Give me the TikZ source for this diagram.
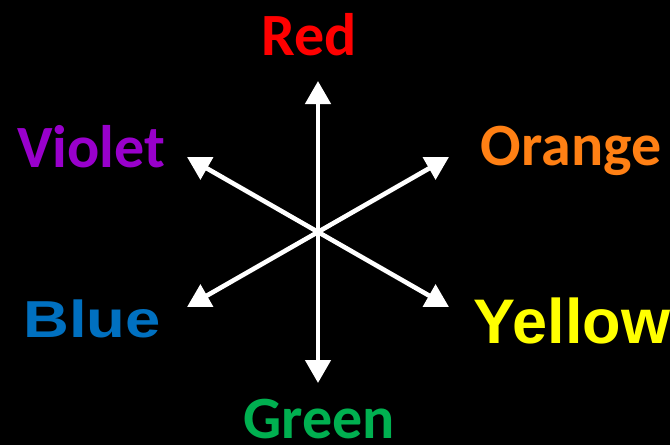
\documentclass[tikz,border=0pt]{standalone}
\usepackage{fontspec}
\usetikzlibrary{arrows.meta}
\newfontfamily\hueFont{Carlito}
\newfontfamily\wideFont{Liberation Sans}
\newfontfamily\stretchFont[FakeStretch=1.22]{Liberation Sans}
\definecolor{hueRed}{RGB}{255,0,0}
\definecolor{hueViolet}{RGB}{153,0,204}
\definecolor{hueOrange}{RGB}{255,128,20}
\definecolor{hueBlue}{RGB}{0,112,192}
\definecolor{hueYellow}{RGB}{255,255,0}
\definecolor{hueGreen}{RGB}{0,176,80}

\begin{document}
\begin{tikzpicture}[x=1pt, y=-1pt,
  spoke/.style={draw=white, line width=4.6pt,
    {Triangle[length=23pt,width=25pt]}-{Triangle[length=23pt,width=25pt]}},
  huelbl/.style={anchor=base, inner sep=0pt,
    font=\hueFont\bfseries\fontsize{60}{60}\selectfont},
  widelbl/.style={anchor=base, inner sep=0pt}]
  % background
  \fill[black] (0,0) rectangle (670,445);
  \useasboundingbox (0,0) rectangle (670,445);

  % spoke ends
  \coordinate (c) at (318,232);
  \coordinate (redEnd) at (318,81);
  \coordinate (greenEnd) at (318,383);
  \coordinate (violetEnd) at (187,157);
  \coordinate (orangeEnd) at (449,157);
  \coordinate (blueEnd) at (187,307);
  \coordinate (yellowEnd) at (449,307);

  \foreach \a/\b in {redEnd/greenEnd, violetEnd/yellowEnd, orangeEnd/blueEnd}
    \draw[spoke] (\a) -- (\b);

  % labels
  \node[huelbl, text=hueRed] (red) at (309,55) {Red};
  \node[huelbl, text=hueViolet] (violet) at (91,167) {Violet};
  \node[huelbl, text=hueOrange] (orange) at (571,165) {Orange};
  \node[huelbl, text=hueGreen] (green) at (319,438) {Green};
  \node[widelbl, text=hueBlue, font=\stretchFont\bfseries\fontsize{52}{52}\selectfont]
    (blue) at (92,337) {Blue};
  \node[widelbl, text=hueYellow, font=\wideFont\bfseries\fontsize{63}{63}\selectfont]
    (yellow) at (572,343) {Yellow};
\end{tikzpicture}
\end{document}
